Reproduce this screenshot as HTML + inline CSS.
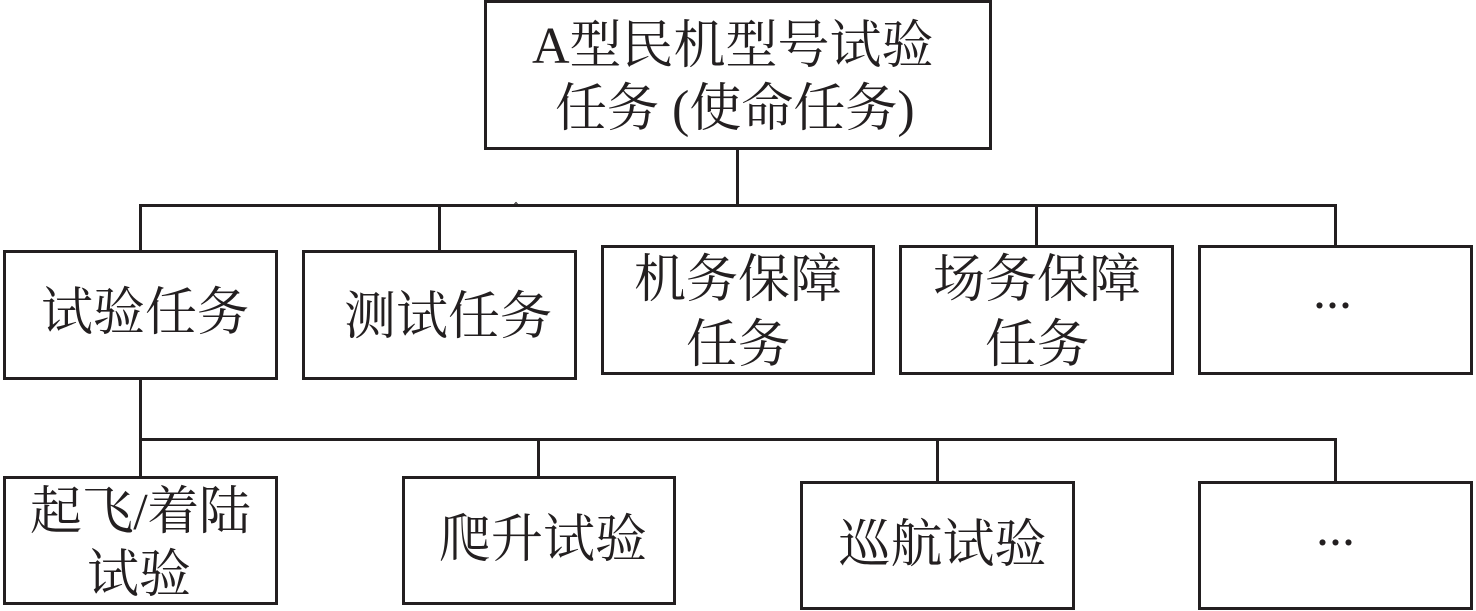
<!DOCTYPE html>
<html>
<head>
<meta charset="utf-8">
<style>
html,body{margin:0;padding:0;background:#fff;width:1476px;height:611px;overflow:hidden}
svg{display:block}
text{font-family:"Liberation Serif","Noto Serif CJK SC",serif;fill:#231f20;font-size:52px}
rect{fill:#fff;stroke:#231f20;stroke-width:3}
path{fill:none;stroke:#231f20;stroke-width:3}
</style>
</head>
<body>
<svg width="1476" height="611" viewBox="0 0 1476 611" xmlns="http://www.w3.org/2000/svg">
<path d="M737.500 149V205M140.500 251V205.500H1335.500V247M439.500 205V251M1036.500 205V247M140.500 376V478M140.500 439.500H1335.500V483M538.500 439V478M937.500 439V483"/>
<path d="M514.500 204L516 202.500L517.500 204" style="stroke-width:1"/>
<rect x="485.500" y="1.500" width="505" height="147"/>
<rect x="4.500" y="251.500" width="272" height="127"/>
<rect x="303.500" y="251.500" width="272" height="127"/>
<rect x="602.500" y="246.500" width="271" height="127"/>
<rect x="900.500" y="246.500" width="272" height="127"/>
<rect x="1199.500" y="246.500" width="272" height="127"/>
<rect x="4.500" y="477.500" width="272" height="126"/>
<rect x="403.500" y="477.500" width="271" height="126"/>
<rect x="801.500" y="482.500" width="272" height="126"/>
<rect x="1199.500" y="482.500" width="272" height="126"/>
<text x="532" y="63">A型民机型号试验</text>
<text x="555" y="126">任务 (使命任务)</text>
<text x="41" y="330">试验任务</text>
<text x="344" y="334">测试任务</text>
<text x="634" y="297">机务保障</text>
<text x="686" y="362">任务</text>
<text x="933" y="297">场务保障</text>
<text x="985" y="362">任务</text>
<text x="1313" y="308">...</text>
<text x="30" y="529" style="letter-spacing:-0.4px">起飞/着陆</text>
<text x="87" y="592">试验</text>
<text x="439" y="557">爬升试验</text>
<text x="838.500" y="562">巡航试验</text>
<text x="1316" y="545">...</text>
</svg>
</body>
</html>
